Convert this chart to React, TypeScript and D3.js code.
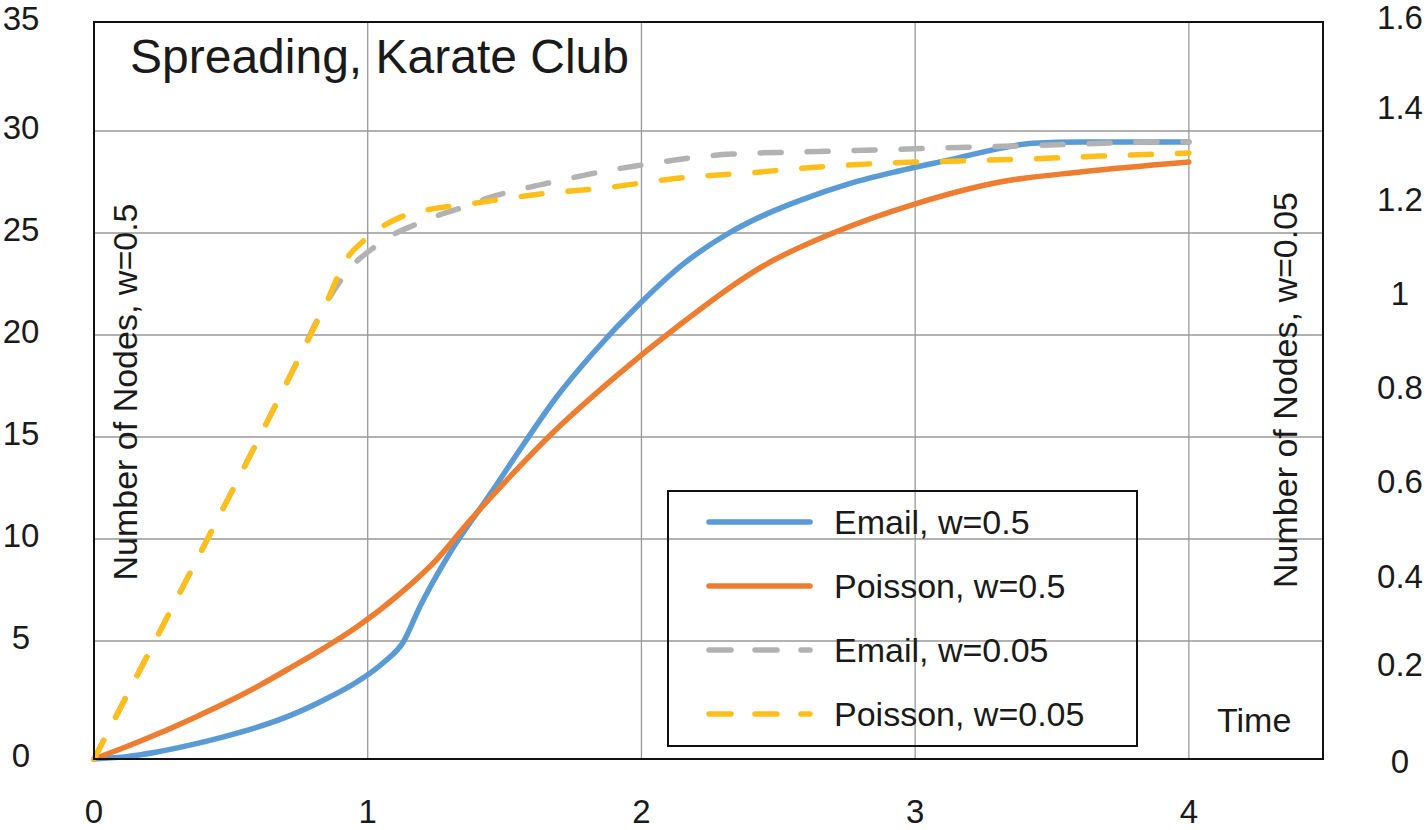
import React from "react";
import * as d3 from "d3";

// ---------- data ----------
const emailW05X = [0, 0.11, 0.23, 0.35, 0.47, 0.6, 0.72, 0.84, 0.96, 1.06, 1.13, 1.19, 1.3, 1.45, 1.57, 1.69, 1.82, 2.0, 2.15, 2.32, 2.46, 2.58, 2.76, 2.94, 3.13, 3.31, 3.43, 3.61, 4.0];
const emailW05Y = [0, 0.09, 0.3, 0.59, 0.93, 1.36, 1.86, 2.5, 3.26, 4.11, 4.96, 6.67, 9.31, 12.25, 14.66, 16.96, 19.07, 21.62, 23.45, 25.0, 25.95, 26.6, 27.42, 28.04, 28.6, 29.15, 29.4, 29.46, 29.46];

const poissonW05X = [0, 0.12, 0.24, 0.36, 0.48, 0.6, 0.72, 0.84, 0.96, 1.12, 1.25, 1.36, 1.53, 1.66, 1.9, 2.14, 2.46, 2.7, 3.01, 3.31, 3.61, 4.0];
const poissonW05Y = [0, 0.53, 1.1, 1.72, 2.37, 3.09, 3.88, 4.7, 5.69, 7.35, 8.97, 10.7, 13.2, 15.0, 17.9, 20.5, 23.5, 25.0, 26.47, 27.5, 28.0, 28.48];

const emailW005X = [0, 0.2, 0.39, 0.59, 0.74, 0.85, 0.95, 1.02, 1.09, 1.17, 1.25, 1.33, 1.44, 1.58, 1.66, 1.91, 2.0, 2.15, 2.33, 2.58, 2.85, 3.09, 3.36, 3.6, 3.87, 4.0];
const emailW005Y = [0, 4.49, 9.36, 14.61, 18.63, 21.6, 23.48, 24.26, 24.9, 25.39, 25.83, 26.18, 26.72, 27.21, 27.45, 28.14, 28.33, 28.63, 28.87, 28.97, 29.07, 29.17, 29.26, 29.36, 29.46, 29.46];

const poissonW005X = [0, 0.2, 0.39, 0.59, 0.74, 0.85, 0.92, 0.98, 1.05, 1.12, 1.2, 1.37, 1.63, 1.89, 2.14, 2.39, 2.65, 2.9, 3.16, 3.41, 3.68, 4.0];
const poissonW005Y = [0, 4.49, 9.36, 14.61, 18.63, 21.62, 23.68, 24.56, 25.29, 25.78, 26.08, 26.42, 26.91, 27.25, 27.7, 27.94, 28.24, 28.43, 28.53, 28.63, 28.77, 28.92];

const seriesNames = ["Email, w=0.5", "Poisson, w=0.5", "Email, w=0.05", "Poisson, w=0.05"];
const seriesColors = ["#5B9BD5", "#ED7D31", "#B2B2B2", "#FFBF1A"];
const seriesDashed = [false, false, true, true];

const xTicks = [0, 1, 2, 3, 4];
const yTicksLeft = [0, 5, 10, 15, 20, 25, 30, 35];
const yGrid = [5, 10, 15, 20, 25, 30];
const yTicksRight = [0, 0.2, 0.4, 0.6, 0.8, 1, 1.2, 1.4, 1.6];

const W = 1427;
const H = 830;

export default function App() {
  const left = 94, right = 1323, top = 22, bottom = 759;
  const x = d3.scaleLinear().domain([0, 4.49]).range([left, right]);
  const y = d3.scaleLinear().domain([0, 5, 30, 35]).range([bottom, 641, 131, top]);
  const yR = d3.scaleLinear().domain([0, 0.2, 0.4, 1.2, 1.4, 1.6]).range([761, 664, 576, 199, 107, 17]);

  const xs = [emailW05X, poissonW05X, emailW005X, poissonW005X];
  const ys = [emailW05Y, poissonW05Y, emailW005Y, poissonW005Y];

  const line = d3
    .line<[number, number]>()
    .x((d) => x(d[0]))
    .y((d) => y(d[1]))
    .curve(d3.curveMonotoneX);

  const font = "'Liberation Sans', Arial, Helvetica, sans-serif";
  const textColor = "#1a1a1a";

  const legendX = 668, legendY = 491, legendW = 469, legendH = 255;
  const legendRows = [522, 586, 650, 714];

  return (
    <svg
      width={W}
      height={H}
      style={{ position: "absolute", left: 0, top: 0, background: "#fff" }}
      fontFamily={font}
    >
      <rect x={0} y={0} width={W} height={H} fill="#fff" />
      {/* grid */}
      {xTicks.filter((t) => t > 0).map((t) => (
        <line key={"vx" + t} x1={x(t)} x2={x(t)} y1={top} y2={bottom} stroke="#999" strokeWidth={1.3} />
      ))}
      {yGrid.map((t) => (
        <line key={"hy" + t} x1={left} x2={right} y1={y(t)} y2={y(t)} stroke="#999" strokeWidth={1.3} />
      ))}

      {/* series */}
      {xs.map((xa, i) => {
        const pts: [number, number][] = xa.map((v, j) => [v, ys[i][j]]);
        return (
          <path
            key={"s" + i}
            d={line(pts) || ""}
            fill="none"
            stroke={seriesColors[i]}
            strokeWidth={5.5}
            strokeLinecap="round"
            strokeLinejoin="round"
            strokeDasharray={seriesDashed[i] ? "21,26" : undefined}
          />
        );
      })}

      {/* plot frame */}
      <rect x={left} y={top} width={right - left} height={bottom - top} fill="none" stroke="#111" strokeWidth={2} />

      {/* left ticks */}
      {yTicksLeft.map((t) => (
        <text key={"yl" + t} x={21} y={y(t) + 7.5} fontSize={33} textAnchor="middle" fill={textColor}>
          {t}
        </text>
      ))}
      {/* right ticks */}
      {yTicksRight.map((t) => (
        <text key={"yr" + t} x={1400} y={yR(t) + 11.5} fontSize={33} textAnchor="middle" fill={textColor}>
          {t}
        </text>
      ))}
      {/* x ticks */}
      {xTicks.map((t) => (
        <text key={"xt" + t} x={x(t)} y={823} fontSize={33} textAnchor="middle" fill={textColor}>
          {t}
        </text>
      ))}

      {/* title */}
      <text x={130} y={73} fontSize={48} fill={textColor}>
        Spreading, Karate Club
      </text>

      {/* axis labels */}
      <text transform={`translate(137, 392) rotate(-90)`} fontSize={34} textAnchor="middle" fill={textColor}>
        Number of Nodes, w=0.5
      </text>
      <text transform={`translate(1297, 390) rotate(-90)`} fontSize={34} textAnchor="middle" fill={textColor}>
        Number of Nodes, w=0.05
      </text>
      <text x={1217} y={732} fontSize={34} fill={textColor}>
        Time
      </text>

      {/* legend */}
      <rect x={legendX} y={legendY} width={legendW} height={legendH} fill="none" stroke="#111" strokeWidth={2} />
      {seriesNames.map((name, i) => (
        <g key={"lg" + i}>
          <line
            x1={709}
            x2={810}
            y1={legendRows[i]}
            y2={legendRows[i]}
            stroke={seriesColors[i]}
            strokeWidth={5.5}
            strokeLinecap="round"
            strokeDasharray={seriesDashed[i] ? "22,24" : undefined}
          />
          <text x={834} y={legendRows[i] + 12} fontSize={34} fill={textColor}>
            {name}
          </text>
        </g>
      ))}
    </svg>
  );
}
